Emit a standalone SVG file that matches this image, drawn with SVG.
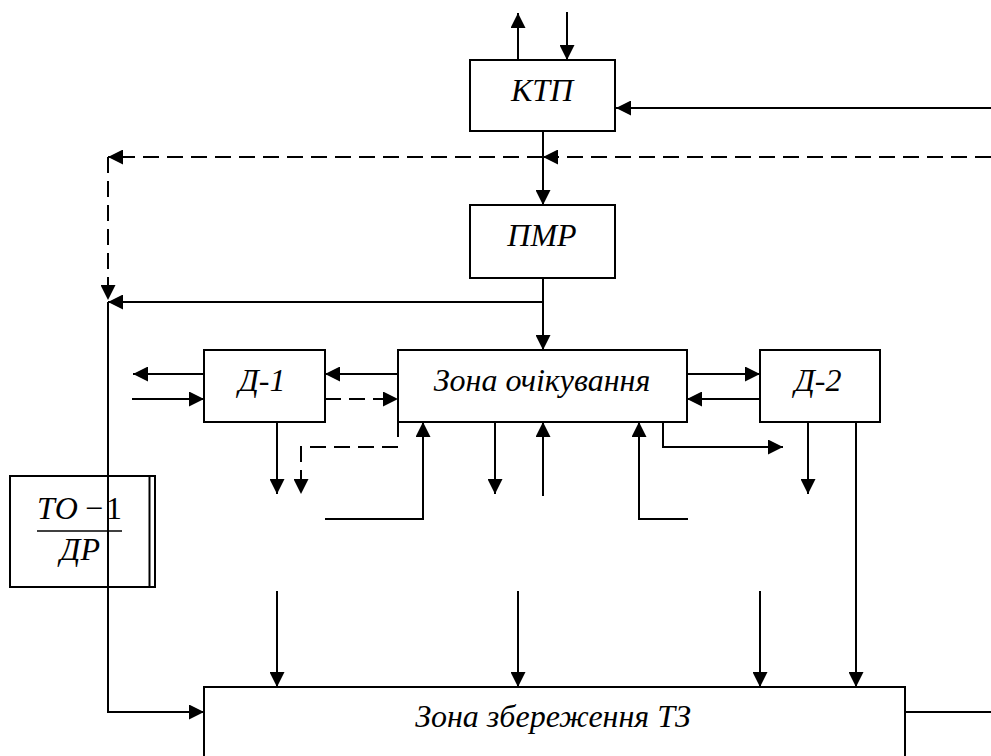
<svg xmlns="http://www.w3.org/2000/svg" width="991" height="756" viewBox="0 0 991 756">
<style>
.box{fill:#fff;stroke:#000;stroke-width:2}
.ln{fill:none;stroke:#000;stroke-width:2}
.ar{fill:none;stroke:#000;stroke-width:2;marker-end:url(#ah)}
.da{stroke-dasharray:16 8}
.t{font-family:"Liberation Serif","Times New Roman",serif;font-style:italic;font-size:32px;text-anchor:middle;fill:#000}
.u{font-style:normal}
</style>
<defs>
<marker id="ah" markerUnits="userSpaceOnUse" markerWidth="16" markerHeight="15" refX="15" refY="7.5" orient="auto" viewBox="0 0 16 15">
<path d="M0,0 L15,7.5 L0,15 z" fill="#000"/>
</marker>
</defs>
<rect width="991" height="756" fill="#fff"/>
<g id="n-ktp"><rect class="box" x="470" y="60" width="145" height="71"/><text class="t" x="542" y="101">КТП</text></g>
<g id="n-pmr"><rect class="box" x="470" y="205" width="145" height="73"/><text class="t" x="542" y="246">ПМР</text></g>
<g id="n-d1"><rect class="box" x="204" y="350" width="121" height="72"/><text class="t" x="262" y="391">Д-1</text></g>
<g id="n-zo"><rect class="box" x="398" y="350" width="289" height="72"/><text class="t" x="542" y="391">Зона очікування</text></g>
<g id="n-d2"><rect class="box" x="760" y="350" width="120" height="72"/><text class="t" x="818" y="391">Д-2</text></g>
<g id="n-zz"><rect class="box" x="204" y="687" width="701" height="80"/><text class="t" x="553" y="727">Зона збереження ТЗ</text></g>
<g id="n-to">
<rect class="box" x="10" y="476" width="145" height="111"/>
<line class="ln" x1="149.5" y1="476" x2="149.5" y2="587"/>
<text class="t" x="37" y="519" style="text-anchor:start">ТО<tspan class="u" dx="7">−</tspan><tspan class="u" dx="3">1</tspan></text>
<line x1="37" y1="531" x2="122" y2="531" stroke="#000" stroke-width="1.5"/>
<text class="t" x="80" y="560">ДР</text>
</g>
<g id="connectors">
<path class="ar" d="M518,60 V13"/>
<path class="ar" d="M567,12 V60"/>
<path class="ar" d="M991,108 H616"/>
<path class="ar da" d="M991,157 H543"/>
<path class="ar da" d="M543,157 H108"/>
<path class="ar da" d="M108,157 V300"/>
<path class="ar" d="M543,131 V205"/>
<path class="ar" d="M543,278 V350"/>
<path class="ar" d="M543,302 H108"/>
<path class="ar" d="M108,302 V712 H204"/>
<path class="ar" d="M204,374 H133"/>
<path class="ar" d="M132,399 H204"/>
<path class="ar" d="M398,374 H325"/>
<path class="ar da" d="M325,399 H398"/>
<path class="ar" d="M277,422 V494"/>
<path class="ln" d="M398,422 V437"/>
<path class="ar da" d="M398,447 H301 V494"/>
<path class="ar" d="M325,519 H423 V422"/>
<path class="ar" d="M495,422 V494"/>
<path class="ar" d="M543,496 V422"/>
<path class="ar" d="M688,519 H639 V422"/>
<path class="ar" d="M663,422 V447 H783"/>
<path class="ar" d="M687,374 H760"/>
<path class="ar" d="M760,399 H687"/>
<path class="ar" d="M808,422 V494"/>
<path class="ar" d="M856,422 V687"/>
<path class="ar" d="M277,591 V687"/>
<path class="ar" d="M518,591 V687"/>
<path class="ar" d="M760,591 V687"/>
<path class="ln" d="M905,712 H991"/>
</g>
</svg>
